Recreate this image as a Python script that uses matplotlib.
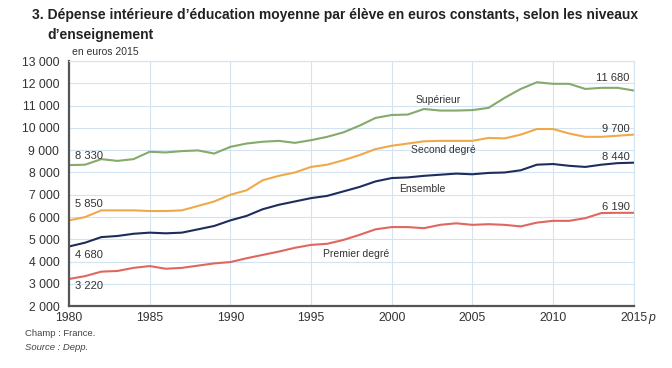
import matplotlib
matplotlib.use("Agg")
import matplotlib.pyplot as plt

years = list(range(1980, 2016))

superieur = [8330, 8350, 8600, 8520, 8600, 8930, 8900, 8960, 8990, 8850,
             9150, 9300, 9380, 9420, 9330, 9450, 9600, 9800, 10100, 10450,
             10580, 10600, 10850, 10780, 10780, 10800, 10900, 11350, 11750, 12050,
             11980, 11980, 11750, 11800, 11800, 11680]
second_degre = [5850, 6000, 6300, 6300, 6300, 6270, 6270, 6300, 6500, 6700,
                7000, 7200, 7650, 7850, 8000, 8250, 8350, 8550, 8780, 9050,
                9200, 9300, 9400, 9420, 9420, 9420, 9550, 9530, 9700, 9950,
                9950, 9750, 9600, 9600, 9650, 9700]
ensemble = [4680, 4850, 5100, 5150, 5250, 5300, 5270, 5300, 5450, 5600,
            5850, 6050, 6350, 6550, 6700, 6850, 6950, 7150, 7350, 7600,
            7750, 7780, 7850, 7900, 7950, 7920, 7980, 8000, 8100, 8350,
            8380, 8300, 8250, 8350, 8420, 8440]
premier_degre = [3220, 3350, 3550, 3580, 3720, 3800, 3680, 3720, 3820, 3920,
                 3980, 4150, 4300, 4450, 4620, 4750, 4800, 4970, 5200, 5450,
                 5550, 5550, 5500, 5650, 5720, 5650, 5680, 5650, 5580, 5750,
                 5830, 5830, 5950, 6180, 6190, 6190]

series_names = ["Supérieur", "Second degré", "Ensemble", "Premier degré"]
series_colors = ["#84aa6c", "#f0a94a", "#1e2d5c", "#e0675f"]

plt.rcParams['font.family'] = ['Liberation Sans', 'DejaVu Sans']
txt = "#333333"

fig = plt.figure(figsize=(6.72, 3.68), dpi=100)
ax = fig.add_axes([0.1027, 0.168, 0.8403, 0.666])

for vals, col in zip([superieur, second_degre, ensemble, premier_degre], series_colors):
    ax.plot(years, vals, color=col, lw=1.5, solid_capstyle="round")

ax.set_xlim(1980, 2015)
ax.set_ylim(2000, 13000)
ax.set_xticks(range(1980, 2016, 5))
ax.set_xticklabels([str(y) for y in range(1980, 2016, 5)])
ax.set_yticks(range(2000, 13001, 1000))
ax.set_yticklabels([f"{v:,}".replace(",", " ") for v in range(2000, 13001, 1000)])
ax.tick_params(length=0, labelsize=8.8, colors=txt)
ax.tick_params(axis="x", pad=4)
ax.tick_params(axis="y", pad=7)
ax.grid(True, color="#d3e3f0", lw=0.8)
ax.set_axisbelow(True)
for s in ["top", "right"]:
    ax.spines[s].set_color("#d3e3f0")
    ax.spines[s].set_linewidth(0.8)
for s in ["left", "bottom"]:
    ax.spines[s].set_color("#555555")
    ax.spines[s].set_linewidth(1.6)

# series labels
ax.text(2002.9, 11240, "Supérieur", ha="center", va="center", fontsize=7.5, color=txt)
ax.text(2003.2, 8990, "Second degré", ha="center", va="center", fontsize=7.5, color=txt)
ax.text(2001.9, 7280, "Ensemble", ha="center", va="center", fontsize=7.5, color=txt)
ax.text(1997.8, 4350, "Premier degré", ha="center", va="center", fontsize=7.5, color=txt)

# start / end values
ax.text(1980.4, 8720, "8 330", ha="left", va="center", fontsize=8, color=txt)
ax.text(1980.4, 6600, "5 850", ha="left", va="center", fontsize=8, color=txt)
ax.text(1980.4, 4300, "4 680", ha="left", va="center", fontsize=8, color=txt)
ax.text(1980.4, 2910, "3 220", ha="left", va="center", fontsize=8, color=txt)
ax.text(2014.76, 12234, "11 680", ha="right", va="center", fontsize=8, color=txt)
ax.text(2014.76, 9937, "9 700", ha="right", va="center", fontsize=8, color=txt)
ax.text(2014.76, 8676, "8 440", ha="right", va="center", fontsize=8, color=txt)
ax.text(2014.76, 6468, "6 190", ha="right", va="center", fontsize=8, color=txt)

fig.text(0.107, 0.858, "en euros 2015", ha="left", va="center", fontsize=7.5, color=txt)
t1 = fig.text(0.048, 0.958, "3. Dépense intérieure d’éducation moyenne par élève en euros constants, selon les niveaux",
              ha="left", va="center", fontsize=11.5, fontweight="bold", color="#222222")
t2 = fig.text(0.070, 0.905, "d’enseignement", ha="left", va="center", fontsize=11.5,
              fontweight="bold", color="#222222")
fig.text(0.037, 0.095, "Champ : France.", ha="left", va="center", fontsize=6.8, color="#444444")
fig.text(0.037, 0.057, "Source : Depp.", ha="left", va="center", fontsize=6.8,
         style="italic", color="#444444")

# fit the title to the reference width (~608 px)
fig.canvas.draw()
r = fig.canvas.get_renderer()
w = t1.get_window_extent(r).width
size = 11.5 * 608 / w
t1.set_fontsize(size)
t2.set_fontsize(size)

# italic "p" after the last year label
fig.canvas.draw()
lab = ax.get_xticklabels()[-1]
bb = lab.get_window_extent(r)
fig.text(bb.x1 / fig.bbox.width + 0.001, (bb.y0 + bb.y1) / 2 / fig.bbox.height, "p",
         ha="left", va="center", fontsize=8.8, style="italic", color=txt)

fig.savefig("out.png", dpi=100)
